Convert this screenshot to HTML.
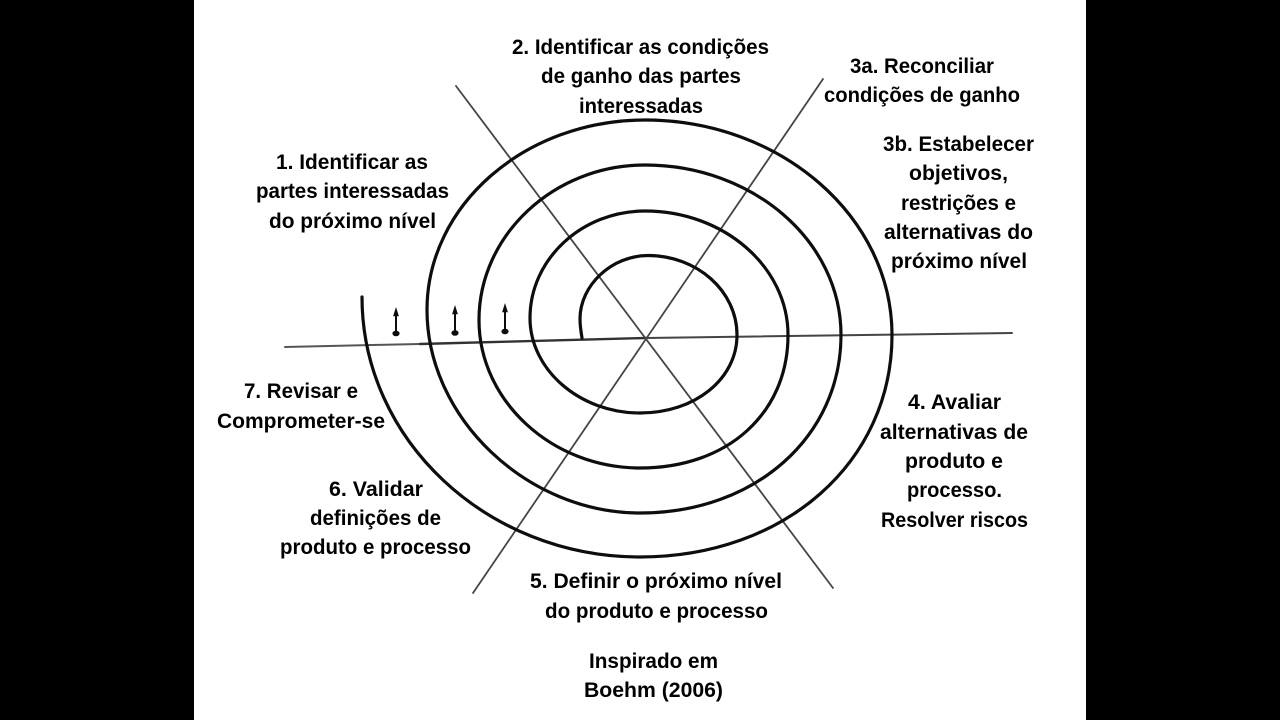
<!DOCTYPE html>
<html lang="pt"><head><meta charset="utf-8"><title>Espiral</title>
<style>html,body{margin:0;padding:0;background:#000;width:1280px;height:720px;overflow:hidden}svg{display:block}
text{font-family:"Liberation Sans",sans-serif;font-weight:700;font-size:21px;fill:#000}</style></head>
<body>
<svg width="1280" height="720" viewBox="0 0 1280 720" xmlns="http://www.w3.org/2000/svg">
<defs><filter id="b" filterUnits="userSpaceOnUse" x="194" y="0" width="892" height="720"><feGaussianBlur stdDeviation="0.35"/></filter></defs>
<rect width="1280" height="720" fill="#000"/>
<rect x="194" width="892" height="720" fill="#fff"/>
<g filter="url(#b)">
<g fill="none" stroke-linecap="round">
<path d="M285,347 L420,344" stroke="#555" stroke-width="2"/>
<path d="M420,344 L646,338" stroke="#333" stroke-width="2.4"/>
<path d="M646,338 L1012,333" stroke="#444" stroke-width="2"/>
<path d="M456,86 L833,588" stroke="#444" stroke-width="1.8"/>
<path d="M823,79 L473,593" stroke="#444" stroke-width="1.8"/>
<path stroke="#111" stroke-width="3.2" d="M582,338 C581,332 580,326 580,319 C580,285 612,255.5 648,255.5 C697,255.5 737,291 737,335 C737,379 695,413 640,413 C580,413 530,370 530,318 C530,259 582,211 645,211 C724,211 788,267 788,335 C788,413 728,468 640,468 C552,468 479,401 479,320 C479,235 554,165 645,165 C753,165 841,241 841,335 C841,436 756,513 640,513 C527,513 427,418 427,310 C427,205 525,120 645,120 C781,120 892,217 892,335 C892,462 785,557 640,557 C487,557 362,440 362,297"/>
</g>
<g stroke="#111" stroke-width="2" fill="#111">
<line x1="396" y1="314" x2="396" y2="333"/><ellipse cx="396" cy="333.5" rx="2.6" ry="1.8"/><path d="M396,308 L393.5,316 L398.5,316 Z" stroke-width="0.6"/>
<line x1="455" y1="312" x2="455" y2="333"/><ellipse cx="455" cy="333" rx="2.6" ry="1.8"/><path d="M455,306 L452.5,314 L457.5,314 Z" stroke-width="0.6"/>
<line x1="505" y1="310" x2="505" y2="331"/><ellipse cx="505" cy="331.5" rx="2.6" ry="1.8"/><path d="M505,304 L502.5,312 L507.5,312 Z" stroke-width="0.6"/>
</g>
</g>
<text x="512" y="54" textLength="257" lengthAdjust="spacingAndGlyphs">2. Identificar as condições</text>
<text x="541" y="83" textLength="200" lengthAdjust="spacingAndGlyphs">de ganho das partes</text>
<text x="579" y="113" textLength="124" lengthAdjust="spacingAndGlyphs">interessadas</text>
<text x="850" y="73" textLength="144" lengthAdjust="spacingAndGlyphs">3a. Reconciliar</text>
<text x="824" y="102" textLength="196" lengthAdjust="spacingAndGlyphs">condições de ganho</text>
<text x="883" y="151" textLength="151" lengthAdjust="spacingAndGlyphs">3b. Estabelecer</text>
<text x="909" y="180" textLength="99" lengthAdjust="spacingAndGlyphs">objetivos,</text>
<text x="901" y="210" textLength="115" lengthAdjust="spacingAndGlyphs">restrições e</text>
<text x="884" y="239" textLength="149" lengthAdjust="spacingAndGlyphs">alternativas do</text>
<text x="891" y="268" textLength="136" lengthAdjust="spacingAndGlyphs">próximo nível</text>
<text x="276" y="169" textLength="152" lengthAdjust="spacingAndGlyphs">1. Identificar as</text>
<text x="256" y="198" textLength="193" lengthAdjust="spacingAndGlyphs">partes interessadas</text>
<text x="269" y="228" textLength="167" lengthAdjust="spacingAndGlyphs">do próximo nível</text>
<text x="244" y="398" textLength="114" lengthAdjust="spacingAndGlyphs">7. Revisar e</text>
<text x="217" y="428" textLength="168" lengthAdjust="spacingAndGlyphs">Comprometer-se</text>
<text x="329" y="496" textLength="94" lengthAdjust="spacingAndGlyphs">6. Validar</text>
<text x="310" y="525" textLength="131" lengthAdjust="spacingAndGlyphs">definições de</text>
<text x="280" y="554" textLength="191" lengthAdjust="spacingAndGlyphs">produto e processo</text>
<text x="908" y="409" textLength="93" lengthAdjust="spacingAndGlyphs">4. Avaliar</text>
<text x="880" y="439" textLength="148" lengthAdjust="spacingAndGlyphs">alternativas de</text>
<text x="905" y="468" textLength="98" lengthAdjust="spacingAndGlyphs">produto e</text>
<text x="907" y="497" textLength="95" lengthAdjust="spacingAndGlyphs">processo.</text>
<text x="881" y="527" textLength="147" lengthAdjust="spacingAndGlyphs">Resolver riscos</text>
<text x="530" y="588" textLength="252" lengthAdjust="spacingAndGlyphs">5. Definir o próximo nível</text>
<text x="545" y="618" textLength="223" lengthAdjust="spacingAndGlyphs">do produto e processo</text>
<text x="589" y="668" textLength="129" lengthAdjust="spacingAndGlyphs">Inspirado em</text>
<text x="584" y="697" textLength="139" lengthAdjust="spacingAndGlyphs">Boehm (2006)</text>
</svg>
</body></html>
